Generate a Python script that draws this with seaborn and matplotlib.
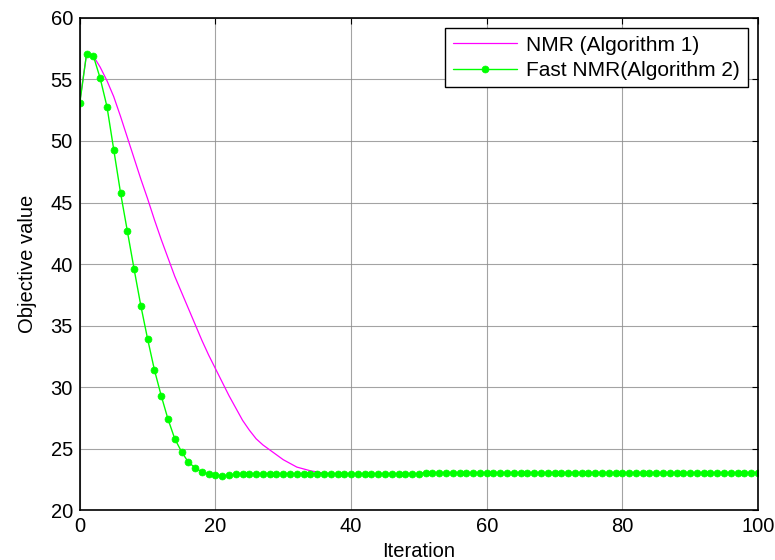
import numpy as np
import pandas as pd
import matplotlib
matplotlib.use("Agg")
import matplotlib.pyplot as plt
import seaborn as sns

iterations = list(range(0, 101))

nmr_values = [
    53.2, 57.1, 56.9, 56.0, 54.9, 53.6, 52.0, 50.3, 48.6, 46.9,
    45.3, 43.6, 42.0, 40.5, 39.0, 37.7, 36.4, 35.1, 33.8, 32.6,
    31.5, 30.4, 29.3, 28.3, 27.3, 26.5, 25.8, 25.3, 24.9, 24.5,
    24.1, 23.8, 23.5, 23.35, 23.2, 23.1, 23.0, 22.97, 22.95, 22.95,
    22.95, 22.95, 22.95, 22.95, 22.95, 22.95, 22.95, 22.95, 22.95, 22.95,
    22.95, 23.05, 23.05, 23.05, 23.05, 23.05, 23.05, 23.05, 23.05, 23.05,
    23.05, 23.05, 23.05, 23.05, 23.05, 23.05, 23.05, 23.05, 23.05, 23.05,
    23.05, 23.05, 23.05, 23.05, 23.05, 23.05, 23.05, 23.05, 23.05, 23.05,
    23.05, 23.05, 23.05, 23.05, 23.05, 23.05, 23.05, 23.05, 23.05, 23.05,
    23.05, 23.05, 23.05, 23.05, 23.05, 23.05, 23.05, 23.05, 23.05, 23.05,
    23.05,
]

fast_nmr_values = [
    53.1, 57.1, 56.9, 55.1, 52.8, 49.3, 45.8, 42.7, 39.6, 36.6,
    33.9, 31.4, 29.3, 27.4, 25.8, 24.75, 23.9, 23.45, 23.1, 22.93,
    22.85, 22.8, 22.82, 22.92, 22.95, 22.95, 22.95, 22.95, 22.95, 22.95,
    22.95, 22.95, 22.95, 22.95, 22.95, 22.95, 22.95, 22.95, 22.95, 22.95,
    22.95, 22.95, 22.95, 22.95, 22.95, 22.95, 22.95, 22.95, 22.95, 22.95,
    22.95, 23.05, 23.05, 23.05, 23.05, 23.05, 23.05, 23.05, 23.05, 23.05,
    23.05, 23.05, 23.05, 23.05, 23.05, 23.05, 23.05, 23.05, 23.05, 23.05,
    23.05, 23.05, 23.05, 23.05, 23.05, 23.05, 23.05, 23.05, 23.05, 23.05,
    23.05, 23.05, 23.05, 23.05, 23.05, 23.05, 23.05, 23.05, 23.05, 23.05,
    23.05, 23.05, 23.05, 23.05, 23.05, 23.05, 23.05, 23.05, 23.05, 23.05,
    23.05,
]

series_labels = ["NMR (Algorithm 1)", "Fast NMR(Algorithm 2)"]
x_ticks = [0, 20, 40, 60, 80, 100]
y_ticks = [20, 25, 30, 35, 40, 45, 50, 55, 60]

df = pd.DataFrame({
    "Iteration": iterations * 2,
    "Objective value": nmr_values + fast_nmr_values,
    "series": [series_labels[0]] * len(iterations) + [series_labels[1]] * len(iterations),
})

sns.set_style("white")
plt.rcParams["font.family"] = ["Liberation Sans", "DejaVu Sans"]
plt.rcParams["text.color"] = "black"
plt.rcParams["axes.labelcolor"] = "black"

fig = plt.figure(figsize=(7.75, 5.6), dpi=100)
ax = fig.add_axes([0.103, 0.089, 0.875, 0.879])

sns.lineplot(data=df[df.series == series_labels[0]], x="Iteration", y="Objective value",
             color="#FF00FF", linewidth=0.9, ax=ax, label=series_labels[0])
sns.lineplot(data=df[df.series == series_labels[1]], x="Iteration", y="Objective value",
             color="#00FF00", linewidth=1.0, marker="o", markersize=5,
             markeredgecolor="#00FF00", markeredgewidth=0.5, ax=ax, label=series_labels[1])

ax.set_xlim(0, 100)
ax.set_ylim(20, 60)
ax.set_xticks(x_ticks)
ax.set_yticks(y_ticks)
ax.tick_params(direction="in", top=True, right=True, length=4, width=0.8,
               labelsize=14.5, colors="black", pad=5)
ax.grid(True, color="0.55", linewidth=0.8, linestyle="-", alpha=0.8)
for s in ax.spines.values():
    s.set_visible(True)
    s.set_color("black")
    s.set_linewidth(1.2)

ax.set_xlabel("Iteration", fontsize=14.5, labelpad=4, color="black")
ax.set_ylabel("Objective value", fontsize=14.5, labelpad=10, color="black")

leg = ax.legend(loc="upper right", fontsize=15, frameon=True, fancybox=False,
                edgecolor="black", handlelength=3.1, borderaxespad=0.5,
                handletextpad=0.45, borderpad=0.35, labelspacing=0.3)
for t in leg.get_texts():
    t.set_color("black")
leg.get_frame().set_linewidth(1.0)
leg.get_frame().set_alpha(1)

fig.savefig("out.png", dpi=100)
